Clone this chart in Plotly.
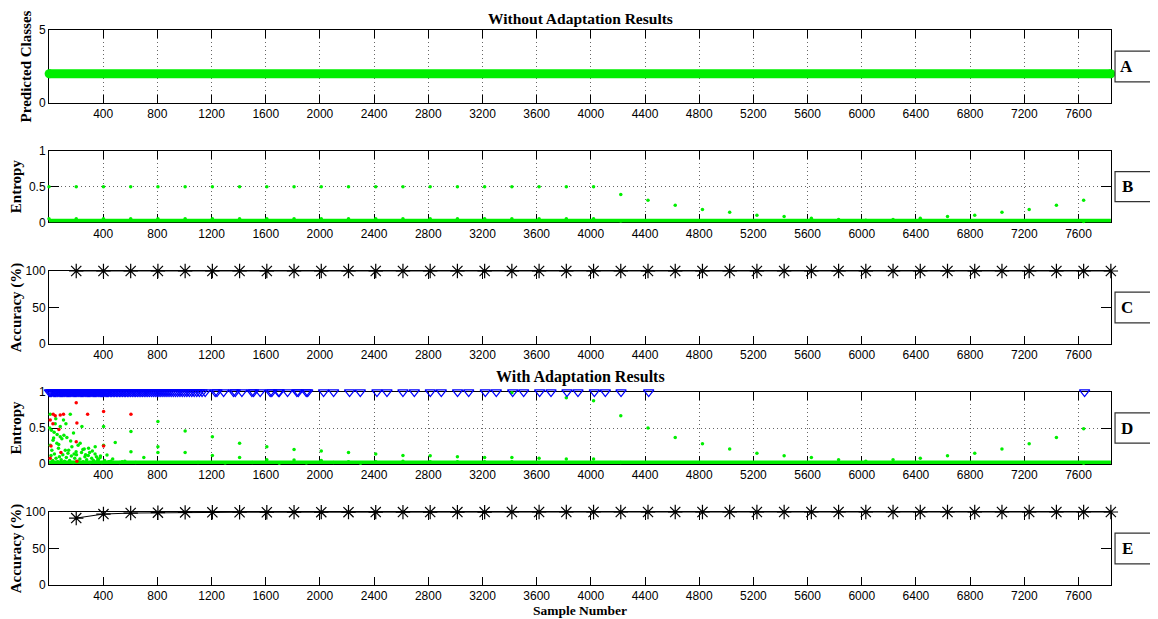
import plotly.graph_objects as go

# ---------------- data ----------------
x_ticks = [400, 800, 1200, 1600, 2000, 2400, 2800, 3200, 3600, 4000, 4400, 4800,
           5200, 5600, 6000, 6400, 6800, 7200, 7600]
x_end = 7840

# Panel A: predicted class (constant class 2 over all samples)
a_x = [1, 7839]
a_y = [2, 2]

# Panel B: entropy without adaptation (baseline entropy 0 for all samples)
b_base_x = [1, 7839]
b_base_y = [0, 0]
b_x = [0, 0, 201, 201, 402, 402, 603, 603, 804, 804, 1005, 1005, 1206, 1206,
       1407, 1407, 1608, 1608, 1809, 1809, 2010, 2010, 2211, 2211, 2412, 2412,
       2613, 2613, 2814, 2814, 3015, 3015, 3216, 3216, 3417, 3417, 3618, 3618,
       3819, 3819, 4020, 4020, 4221, 4221, 4422, 4623, 4824, 5025, 5226, 5427,
       5628, 5829, 6030, 6231, 6432, 6633, 6834, 7035, 7236, 7437, 7638, 7638]
b_y = [0.5, 0.05, 0.5, 0.05, 0.5, 0.05, 0.5, 0.05, 0.5, 0.05, 0.5, 0.05, 0.5, 0.05,
       0.5, 0.05, 0.5, 0.05, 0.5, 0.05, 0.5, 0.05, 0.5, 0.05, 0.5, 0.05,
       0.5, 0.05, 0.5, 0.05, 0.5, 0.05, 0.5, 0.05, 0.5, 0.05, 0.5, 0.05,
       0.5, 0.05, 0.5, 0.05, 0.39, 0.02, 0.31, 0.24, 0.18, 0.14, 0.10, 0.08,
       0.056, 0.04, 0.03, 0.04, 0.056, 0.08, 0.10, 0.14, 0.18, 0.24, 0.31, 0.01]

# Panel C / E: accuracy per block
acc_x = [201, 402, 603, 804, 1005, 1206, 1407, 1608, 1809, 2010, 2211, 2412, 2613,
         2814, 3015, 3216, 3417, 3618, 3819, 4020, 4221, 4422, 4623, 4824, 5025,
         5226, 5427, 5628, 5829, 6030, 6231, 6432, 6633, 6834, 7035, 7236, 7437,
         7638, 7839]
c_acc = [100, 100, 100, 100, 100, 100, 100, 100, 100, 100, 100, 100, 100,
         100, 100, 100, 100, 100, 100, 100, 100, 100, 100, 100, 100,
         100, 100, 100, 100, 100, 100, 100, 100, 100, 100, 100, 100, 100, 100]
e_acc = [91.7, 97.2, 98.6, 99.1, 99.5, 99.6, 99.7, 99.7, 99.8, 99.8, 99.8, 99.9, 99.9,
         99.9, 99.9, 99.9, 100, 100, 100, 100, 100, 100, 100, 100, 100,
         100, 100, 100, 100, 100, 100, 100, 100, 100, 100, 100, 100, 100, 100]

# Panel D: entropy with adaptation
d_base_x = [1, 7839]
d_base_y = [0, 0]
d_green_x = [9, 46, 83, 107, 157, 243, 181, 132, 83, 34, 58, 9, 21, 70, 120, 169,
             230, 292, 341, 403, 489, 605, 605, 428, 403, 15, 27, 40, 52, 64, 77,
             90, 102, 115, 128, 140, 152, 165, 178, 190, 203, 215, 228, 240, 252,
             265, 278, 290, 303, 315, 328, 340, 352, 365, 378, 390, 410, 440, 470,
             520, 560, 640, 700, 30, 60, 95, 145, 200, 260, 320, 380, 18, 50, 110,
             160, 215, 270, 350, 5, 38, 72, 125, 185, 250, 300, 360, 455, 540,
             804, 804, 804, 1005, 1005, 1206, 1206, 1407, 1407, 1608, 1608, 1809,
             1809, 2010, 2010, 2211, 2211, 2412, 2412, 2613, 2613, 2814, 2814,
             3015, 3015, 3216, 3216, 3417, 3417, 3417, 3618, 3618, 3819, 3819,
             4020, 4020, 4221, 4221, 4422, 4623, 4824, 5025, 5226, 5427, 5628,
             5829, 6030, 6231, 6432, 6633, 6834, 7035, 7236, 7437, 7638, 7638,
             1100, 1300, 1500, 1700, 1900, 2100, 2300]
d_green_y = [0.69, 0.56, 0.52, 0.61, 0.69, 0.52, 0.43, 0.37, 0.38, 0.36, 0.29,
             0.26, 0.19, 0.22, 0.19, 0.24, 0.29, 0.22, 0.24, 0.52, 0.30, 0.45,
             0.17, 0.125, 0.26, 0.12, 0.05, 0.14, 0.08, 0.03, 0.10, 0.06, 0.13,
             0.04, 0.09, 0.15, 0.05, 0.11, 0.02, 0.08, 0.13, 0.04, 0.07, 0.16,
             0.03, 0.10, 0.06, 0.12, 0.02, 0.08, 0.05, 0.14, 0.03, 0.06, 0.09,
             0.02, 0.05, 0.03, 0.07, 0.02, 0.04, 0.02, 0.09, 0.33, 0.41, 0.35,
             0.19, 0.17, 0.21, 0.18, 0.11, 0.47, 0.63, 0.40, 0.32, 0.26, 0.13,
             0.10, 0.50, 0.44, 0.27, 0.56, 0.14, 0.20, 0.16, 0.07, 0.04, 0.03,
             0.59, 0.24, 0.16, 0.46, 0.16, 0.38, 0.12, 0.29, 0.09, 0.24, 0.06,
             0.20, 0.055, 0.18, 0.05, 0.16, 0.03, 0.14, 0.03, 0.12, 0.04, 0.115,
             0.03, 0.10, 0.03, 0.09, 0.03, 0.09, 0.03, 0.99, 0.08, 0.02, 0.92,
             0.07, 0.88, 0.07, 0.67, 0.02, 0.5, 0.37, 0.28, 0.21, 0.15, 0.115,
             0.09, 0.06, 0.04, 0.06, 0.08, 0.115, 0.15, 0.21, 0.28, 0.37, 0.49,
             0.01, 0.02, 0.015, 0.02, 0.01, 0.015, 0.02, 0.01]
d_red_x = [9, 31, 46, 83, 107, 29, 73, 285, 201, 206, 403, 605, 201, 403, 88, 9,
           206, 15]
d_red_y = [0.61, 0.69, 0.67, 0.68, 0.69, 0.56, 0.48, 0.69, 0.85, 0.57, 0.73, 0.69,
           0.31, 0.25, 0.16, 0.08, 0.04, 0.25]
d_tri_x = [3, 12, 20, 31, 40, 47, 58, 66, 75, 84, 93, 101, 110, 118, 127, 136, 144,
           153, 161, 170, 179, 188, 196, 205, 214, 222, 231, 240, 248, 257, 266,
           274, 283, 292, 300, 309, 318, 327, 335, 344, 353, 362, 370, 379, 388,
           396, 405, 414, 423, 432, 441, 452, 463, 474, 485, 497, 508, 520, 531,
           543, 555, 566, 578, 590, 603, 615, 628, 640, 652, 665, 678, 690, 703,
           716, 729, 742, 756, 770, 784, 798, 812, 826, 841, 856, 871, 886, 902,
           918, 934, 950, 967, 984, 1001, 1018, 1036, 1054, 1072, 1091, 1110,
           1130, 1153, 1227, 1240, 1289, 1362, 1375, 1424, 1498, 1510, 1559, 1633,
           1645, 1694, 1700, 1761, 1830, 1840, 1899, 1910, 2027, 2101, 2219, 2298,
           2421, 2495, 2613, 2697, 2815, 2896, 3016, 3098, 3221, 3302, 3423, 3504,
           3622, 3706, 3824, 3905, 4026, 4107, 4223, 4427, 7645]
d_tri_y = [1] * len(d_tri_x)

panel_letters = ["A", "B", "C", "D", "E"]

# ---------------- figure ----------------
SERIF = "Liberation Serif"
SANS = "Liberation Sans"
GREEN = "#00ee00"
GRIDDASH = "1px,3px"
GRIDCOL = "rgba(0,0,0,0.6)"

fig = go.Figure()

def add(trace, n):
    sfx = "" if n == 1 else str(n)
    trace.update(xaxis="x" + sfx, yaxis="y" + sfx, showlegend=False, cliponaxis=False)
    fig.add_trace(trace)

add(go.Scatter(x=a_x, y=a_y, mode="lines+markers", line=dict(color=GREEN, width=9),
               marker=dict(color=GREEN, size=9)), 1)

add(go.Scatter(x=b_base_x, y=b_base_y, mode="lines", line=dict(color=GREEN, width=7)), 2)
add(go.Scatter(x=b_x, y=b_y, mode="markers", marker=dict(color=GREEN, size=3.5)), 2)

add(go.Scatter(x=acc_x, y=c_acc, mode="lines+markers", line=dict(color="black", width=1),
               marker=dict(symbol="asterisk-open", size=12, color="black",
                           line=dict(color="black", width=1.2))), 3)

add(go.Scatter(x=d_base_x, y=d_base_y, mode="lines", line=dict(color=GREEN, width=7)), 4)
add(go.Scatter(x=d_green_x, y=d_green_y, mode="markers", marker=dict(color=GREEN, size=3.5)), 4)
add(go.Scatter(x=d_red_x, y=d_red_y, mode="markers", marker=dict(color="#ff0000", size=3.5)), 4)
add(go.Scatter(x=d_tri_x, y=d_tri_y, mode="markers",
               marker=dict(symbol="triangle-down-open", size=9, color="#0000ff",
                           line=dict(color="#0000ff", width=1.3))), 4)

add(go.Scatter(x=acc_x, y=e_acc, mode="lines+markers", line=dict(color="black", width=1),
               marker=dict(symbol="asterisk-open", size=12, color="black",
                           line=dict(color="black", width=1.2))), 5)

# panel geometry (plot area height 555 px)
domains = [(0.8685, 1.0), (0.6535, 0.782), (0.4342, 0.5658), (0.218, 0.3477), (0.0, 0.1315)]
yranges = [[0, 5], [0, 1], [0, 100], [0, 1], [0, 100]]
ytickv = [[0, 5], [0, 0.5, 1], [0, 50, 100], [0, 0.5, 1], [0, 50, 100]]
ytitles = ["Predicted Classes", "Entropy", "Accuracy (%)", "Entropy", "Accuracy (%)"]
xgrid = [True, True, False, True, False]
ygrid = [False, True, False, True, False]

layout = dict(
    width=1150, height=611,
    margin=dict(l=41, r=47, t=22, b=34),
    paper_bgcolor="white", plot_bgcolor="white",
    font=dict(family=SANS, size=12, color="black"),
)
for i in range(5):
    sfx = "" if i == 0 else str(i + 1)
    layout["xaxis" + sfx] = dict(
        domain=[0, 1], anchor="y" + sfx, range=[0, x_end], tickmode="array",
        tickvals=x_ticks, ticktext=[str(v) for v in x_ticks],
        ticks="inside", ticklen=8, tickcolor="black", tickwidth=1,
        showline=True, linecolor="black", linewidth=1, mirror="ticks",
        showgrid=xgrid[i], gridcolor=GRIDCOL, griddash=GRIDDASH, gridwidth=1,
        zeroline=False, layer="below traces", tickfont=dict(family=SANS, size=12),
        automargin=False,
        title=dict(text="Sample Number" if i == 4 else "",
                   font=dict(family=SERIF, size=13.5, weight="bold"), standoff=0),
    )
    layout["yaxis" + sfx] = dict(
        domain=list(domains[i]), anchor="x" + sfx, range=yranges[i], tickmode="array",
        tickvals=ytickv[i], ticks="inside", ticklen=10, tickcolor="black",
        showline=True, linecolor="black", linewidth=1, mirror="ticks",
        showgrid=ygrid[i], gridcolor=GRIDCOL, griddash=GRIDDASH, gridwidth=1,
        zeroline=False, layer="below traces", tickfont=dict(family=SANS, size=12),
        automargin=False,
        title=dict(text=ytitles[i], font=dict(family=SERIF, size=15, weight="bold"),
                   standoff=3),
    )

annotations = [
    dict(text="Without Adaptation Results", x=0.5, y=1.0216, xref="paper", yref="paper",
         yanchor="middle", showarrow=False,
         font=dict(family=SERIF, size=15.5, weight="bold")),
    dict(text="With Adaptation Results", x=0.5, y=0.3748, xref="paper", yref="paper",
         yanchor="middle", showarrow=False,
         font=dict(family=SERIF, size=16, weight="bold")),
]
shapes = []
for i, letter in enumerate(panel_letters):
    sfx = "" if i == 0 else str(i + 1)
    shapes.append(dict(type="rect", xref="paper", yref="y" + sfx + " domain",
                       x0=1.0038, x1=1.0405, y0=0.29, y1=0.71,
                       line=dict(color="#333333", width=1.2), fillcolor="white"))
    annotations.append(dict(text=letter, x=1.0222, y=0.5, xref="paper",
                            yref="y" + sfx + " domain", showarrow=False,
                            font=dict(family=SERIF, size=17, weight="bold")))
layout["annotations"] = annotations
layout["shapes"] = shapes

fig.update_layout(**layout)
fig.write_html("out.html")
